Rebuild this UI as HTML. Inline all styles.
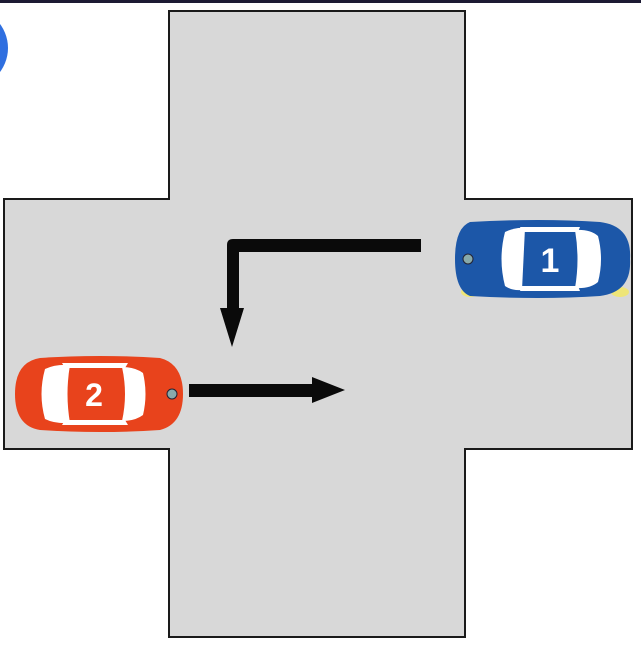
<!DOCTYPE html>
<html><head><meta charset="utf-8"><style>
html,body{margin:0;padding:0;background:#fff;width:641px;height:648px;overflow:hidden}
svg{display:block}
text{font-family:"Liberation Sans",sans-serif;font-weight:bold}
</style></head><body>
<svg width="641" height="648" viewBox="0 0 641 648">
<rect x="0" y="0" width="641" height="3" fill="#1c1a33"/>
<circle cx="-32" cy="48" r="40" fill="#2f6fe0"/>
<polygon points="169,11 465,11 465,199 632,199 632,449 465,449 465,637 169,637 169,449 4,449 4,199 169,199" fill="#d8d8d8" stroke="#1a1a1a" stroke-width="2"/>
<g fill="#0a0a0a">
<path d="M421,239 L421,252 L239,252 L239,308 L244,308 L232,347 L220,308 L227,308 L227,245 Q227,239 233,239 Z"/>
</g>
<g fill="#0a0a0a">
<path d="M189,384 L312,384 L312,377 L345,390 L312,403 L312,397 L189,397 Z"/>
</g>
<g>
<ellipse cx="470" cy="292" rx="9" ry="5" fill="#f4e860" opacity="0.8"/>
<ellipse cx="620" cy="292" rx="9" ry="5" fill="#f4e860" opacity="0.8"/>
<path d="M470,222 Q540,218 600,222 Q632,226 630,259 Q632,292 600,296 Q540,300 470,296 Q455,290 455,259 Q455,228 470,222 Z" fill="#1c57a8"/>
<path d="M505,232 Q515,227 525,228 L522,290 Q512,291 505,286 Q498,259 505,232 Z" fill="#fff"/>
<path d="M575,230 Q590,229 598,236 Q604,259 598,282 Q590,289 575,288 Q580,259 575,230 Z" fill="#fff"/>
<path d="M520,227 L580,227 L578,232 L522,232 Z" fill="#fff"/>
<path d="M520,291 L580,291 L578,286 L522,286 Z" fill="#fff"/>
<circle cx="468" cy="259" r="5" fill="#8aa" stroke="#223" stroke-width="1"/>
<text x="550" y="272" font-size="34" fill="#fff" text-anchor="middle">1</text>
</g>
<g>
<path d="M40,358 Q100,354 160,358 Q183,364 183,394 Q183,424 160,430 Q100,434 40,430 Q15,426 15,394 Q15,362 40,358 Z" fill="#e8431c"/>
<path d="M45,369 Q55,364 70,365 Q65,394 70,423 Q55,424 45,419 Q38,394 45,369 Z" fill="#fff"/>
<path d="M122,367 Q135,367 143,373 Q148,394 143,415 Q135,421 122,421 Q128,394 122,367 Z" fill="#fff"/>
<path d="M62,363 L128,363 L125,368 L65,368 Z" fill="#fff"/>
<path d="M62,425 L128,425 L125,420 L65,420 Z" fill="#fff"/>
<circle cx="172" cy="394" r="5" fill="#8aa" stroke="#223" stroke-width="1"/>
<text x="94" y="406" font-size="32" fill="#fff" text-anchor="middle">2</text>
</g>
</svg>
</body></html>
